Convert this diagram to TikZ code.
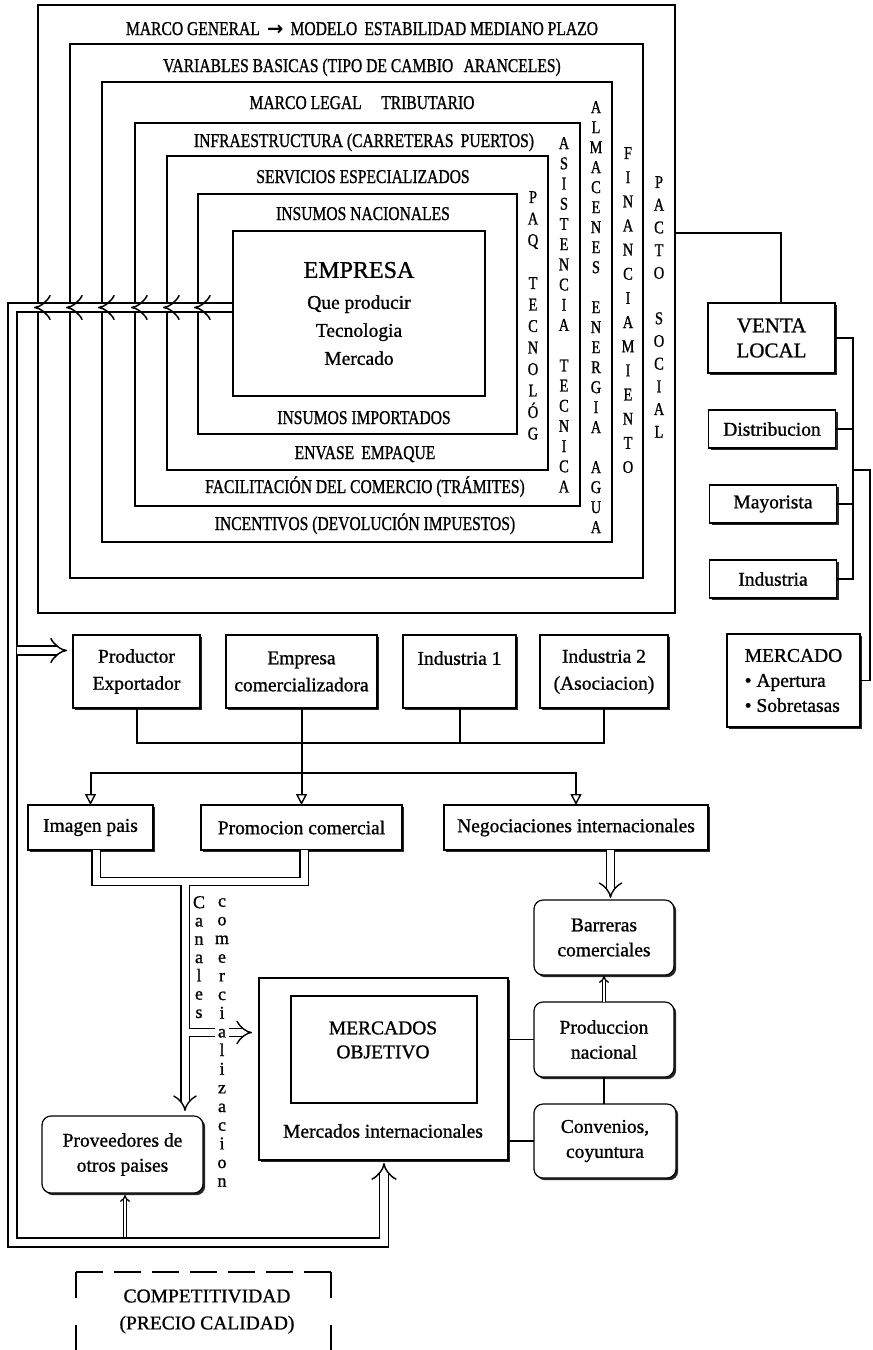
\documentclass[tikz,border=0pt]{standalone}
\usepackage{fontspec}
\setmainfont[FakeBold=1]{Liberation Serif}
\newfontfamily\cond[FakeStretch=0.8,FakeBold=1]{Liberation Serif}
\newfontfamily\dejavu{DejaVu Sans}
\usetikzlibrary{arrows.meta,shadows}
\newcommand{\tfnt}{\cond\fontsize{19.5}{21}\selectfont}
\newcommand{\lfnt}{\fontsize{19.5}{25}\selectfont}
\begin{document}
\begin{tikzpicture}[x=1pt,y=-1pt,
  frame/.style={draw, line width=1.6pt, inner sep=0pt, outer sep=0pt, anchor=north west},
  tl/.style={font=\tfnt, inner sep=0pt, anchor=base},
  vt/.style={align=center, inner sep=0pt, anchor=north},
  box/.style={draw, line width=1.2pt, fill=white, inner sep=0pt, outer sep=0pt, align=center, font=\lfnt,
     drop shadow={shadow xshift=2.2pt, shadow yshift=-2.2pt, fill=black!85, opacity=1}},
  rbox/.style={box, rounded corners=9pt},
  pipe/.style={double, double distance=7pt, line width=1.4pt},
  pipetwo/.style={double, double distance=2pt, line width=1.3pt},
  loopline/.style={double, double distance=7.5pt, line width=1.5pt},
  bus/.style={line width=2pt},
  busarrow/.style={bus, -{Triangle[open, length=11pt, width=11pt, line width=1.4pt]}},
  conn/.style={line width=1.2pt},
  bk/.style={line width=1.8pt},
  dsh/.style={line width=2pt},
]
\useasboundingbox (0,0) rectangle (873,1350);

% nested frames
\node[frame, minimum width=637pt, minimum height=608pt] (f1) at (38,5) {};
\node[frame, minimum width=573pt, minimum height=534pt] (f2) at (70,44) {};
\node[frame, minimum width=510pt, minimum height=460pt] (f3) at (102,82) {};
\node[frame, minimum width=445pt, minimum height=383pt] (f4) at (135,123) {};
\node[frame, minimum width=381pt, minimum height=314pt] (f5) at (167,156) {};
\node[frame, minimum width=319pt, minimum height=240pt] (f6) at (198,194) {};
\node[frame, line width=2.8pt, minimum width=252pt, minimum height=165pt, align=center,
      font={\fontsize{19.5}{28}\selectfont},
      drop shadow={shadow xshift=1.2pt, shadow yshift=-1.2pt, fill=black!85, opacity=1}, fill=white]
      (empresa) at (233,231) {{\fontsize{24}{28}\selectfont EMPRESA}\\[3pt]Que producir\\Tecnologia\\Mercado};

% frame labels
\node[tl] (t1) at (362,35) {MARCO GENERAL \,{\dejavu\bfseries →}\, MODELO\, ESTABILIDAD MEDIANO PLAZO};
\node[tl] (t2) at (362,72) {VARIABLES BASICAS (TIPO DE CAMBIO\,\, ARANCELES)};
\node[tl] (t3) at (362,109) {MARCO LEGAL\quad TRIBUTARIO};
\node[tl] (t4) at (364,147) {INFRAESTRUCTURA (CARRETERAS\, PUERTOS)};
\node[tl] (t5) at (363,183) {SERVICIOS ESPECIALIZADOS};
\node[tl] (t6) at (363,220) {INSUMOS NACIONALES};
\node[tl] (b6) at (364,424) {INSUMOS IMPORTADOS};
\node[tl] (b5) at (365,459) {ENVASE\, EMPAQUE};
\node[tl] (b4) at (365,493) {FACILITACIÓN DEL COMERCIO (TRÁMITES)};
\node[tl] (b3) at (365,530) {INCENTIVOS (DEVOLUCIÓN IMPUESTOS)};

% vertical labels
\node[vt, font={\cond\fontsize{18}{21.5}\selectfont}] (vpaq) at (533,191) {P\\A\\Q\\~\\T\\E\\C\\N\\O\\L\\Ó\\G};
\node[vt, font={\cond\fontsize{18}{20.2}\selectfont}] (vasi) at (564,137) {A\\S\\I\\S\\T\\E\\N\\C\\I\\A\\~\\T\\E\\C\\N\\I\\C\\A};
\node[vt, font={\cond\fontsize{18}{20}\selectfont}] (valm) at (596,101) {A\\L\\M\\A\\C\\E\\N\\E\\S\\~\\E\\N\\E\\R\\G\\I\\A\\~\\A\\G\\U\\A};
\node[vt, font={\cond\fontsize{18}{24.15}\selectfont}] (vfin) at (628,147) {F\\I\\N\\A\\N\\C\\I\\A\\M\\I\\E\\N\\T\\O};
\node[vt, font={\cond\fontsize{18}{22.7}\selectfont}] (vpac) at (659,176) {P\\A\\C\\T\\O\\~\\S\\O\\C\\I\\A\\L};

% feedback loop (double line)
\coordinate (lpA) at (12.5,307.5);
\coordinate (lpB) at (12.5,1242.5);
\coordinate (lpC) at (384,1242.5);
\node[box, line width=2.5pt, minimum width=249pt, minimum height=182pt] (mercout) at (383.5,1069) {};
\draw[loopline, -{Implies}, shorten >=3pt] ([xshift=-1.4pt]empresa.west |- lpA) -- (lpA) -- (lpB) -- (lpC) -- (lpC |- mercout.south);
\foreach \f in {f1,f2,f3,f4,f5,f6}
  \draw[loopline, -{Implies}] ([xshift=12pt]\f.west |- lpA) -- ([xshift=-4pt]\f.west |- lpA);

% right side
\node[box, font={\fontsize{21}{25}\selectfont}, minimum width=127pt, minimum height=70pt] (venta) at (771.5,338) {VENTA\\LOCAL};
\node[box, minimum width=127pt, minimum height=38pt] (distrib) at (772,429) {Distribucion};
\node[box, minimum width=127pt, minimum height=38pt] (mayor) at (773,504) {Mayorista};
\node[box, minimum width=127pt, minimum height=38pt] (industria) at (773,579) {Industria};
\node[box, align=left, minimum width=133pt, minimum height=93pt] (mercado) at (793.5,680.5) {MERCADO\\• Apertura\\• Sobretasas};
\coordinate (vA) at (675,233);
\draw[conn] (vA) -| ([xshift=9.5pt]venta.north);
\coordinate (bx) at (853,338);
\draw[bk] (venta.east) -- (bx) -- (bx |- industria.east) -- (industria.east);
\draw[bk] (distrib.east) -- (distrib.east -| bx);
\draw[bk] (mayor.east) -- (mayor.east -| bx);
\coordinate (bm) at (853,470);
\draw[bk] (bm) -- ++(17,0) |- (mercado.east);

% middle row
\node[box, font={\fontsize{19.5}{27}\selectfont}, minimum width=127pt, minimum height=73pt] (prod) at (136.5,671.5) {Productor\\Exportador};
\node[box, font={\fontsize{19.5}{27}\selectfont}, minimum width=151pt, minimum height=73pt] (emcom) at (301.5,671.5) {Empresa\\comercializadora};
\node[box, font={\fontsize{19.5}{27}\selectfont}, minimum width=113pt, minimum height=73pt] (ind1) at (459.5,671.5) {Industria 1\\\phantom{I}};
\node[box, font={\fontsize{19.5}{27}\selectfont}, minimum width=128pt, minimum height=73pt] (ind2) at (604,671.5) {Industria 2\\(Asociacion)};

\coordinate (brP) at (16.5,650.5);
\draw[loopline, -{Implies}, shorten >=6pt] (brP) -- (brP -| prod.west);

\node[box, minimum width=125pt, minimum height=45pt] (imagen) at (90.5,827.5) {Imagen pais};
\node[box, minimum width=201pt, minimum height=45pt] (promo) at (301.5,827.5) {Promocion comercial};
\node[box, minimum width=264pt, minimum height=45pt] (negoc) at (576,827.5) {Negociaciones internacionales};

\draw[bus] (prod.south) -- ++(0,35) -| (ind2.south);
\draw[bus] (ind1.south) -- ++(0,35);
\coordinate (b2) at (301.5,773);
\draw[bus] (emcom.south) -- (b2);
\draw[busarrow] (b2) -| (imagen.north);
\draw[busarrow] (b2) -| (negoc.north);
\draw[busarrow] (b2) -- (promo.north);

% lower part
\node[rbox, minimum width=140pt, minimum height=75pt] (barreras) at (604,937.5) {Barreras\\comerciales};
\node[rbox, minimum width=140pt, minimum height=75pt] (produc) at (604,1039.5) {Produccion\\nacional};
\node[rbox, minimum width=142pt, minimum height=74pt] (conven) at (605,1141) {Convenios,\\coyuntura};
\node[draw, line width=1.5pt, inner sep=0pt, minimum width=186pt, minimum height=107pt] (mobj) at (384,1049.5) {};
\node[inner sep=0pt, align=center, font={\fontsize{19.5}{24}\selectfont}] (mobjt) at (383,1040) {MERCADOS\\OBJETIVO};
\node[inner sep=0pt, font=\lfnt] (mint) at (383,1131) {Mercados internacionales};
\node[rbox, minimum width=161pt, minimum height=77pt] (proveed) at (122.5,1154.5) {Proveedores de\\otros paises};

\coordinate (nb) at (610.5,850);
\draw[pipe, -{Implies}, shorten >=2pt] (nb) -- (nb |- barreras.north);
\draw[pipetwo, -{Implies}, shorten >=1pt] (produc.north) -- (barreras.south);
\draw[conn] (produc.west) -- (produc.west -| mercout.east);
\draw[conn] (conven.west) -- (conven.west -| mercout.east);
\draw[conn] (produc.south) -- (produc.south |- conven.north);

\coordinate (tee) at (185,881.5);
\draw[pipe] ([xshift=5.5pt]imagen.south) |- (tee) -| ([xshift=2.5pt]promo.south);
\draw[pipe, -{Implies}, shorten >=5pt] ([yshift=-3.7pt]tee) -- (tee |- proveed.north);
\coordinate (brM) at (188.7,1032.5);
\draw[pipe, -{Implies}, shorten >=7pt] (brM) -- (brM -| mercout.west);

\node[vt, font={\fontsize{18}{18.3}\selectfont}] (vcan) at (199,896) {C\\a\\n\\a\\l\\e\\s};
\node[vt, fill=white, font={\fontsize{18}{18.67}\selectfont}] (vcom) at (222,898) {c\\o\\m\\e\\r\\c\\i\\a\\l\\i\\z\\a\\c\\i\\o\\n};

\coordinate (brV) at (125,1237);
\draw[pipetwo, -{Implies}, shorten >=2pt] (brV) -- (brV |- proveed.south);

% competitividad
\coordinate (cTL) at (76,1272);
\coordinate (cTR) at (331,1272);
\draw[dsh, dash pattern=on 27pt off 11pt] (cTL) -- (cTR);
\draw[dsh, dash pattern=on 26pt off 27pt] (cTL) -- ++(0,90);
\draw[dsh, dash pattern=on 26pt off 27pt] (cTR) -- ++(0,90);
\node[inner sep=0pt, align=center, font={\fontsize{19.5}{27}\selectfont}] (comp) at (207,1311.5) {COMPETITIVIDAD\\(PRECIO CALIDAD)};
\end{tikzpicture}
\end{document}
